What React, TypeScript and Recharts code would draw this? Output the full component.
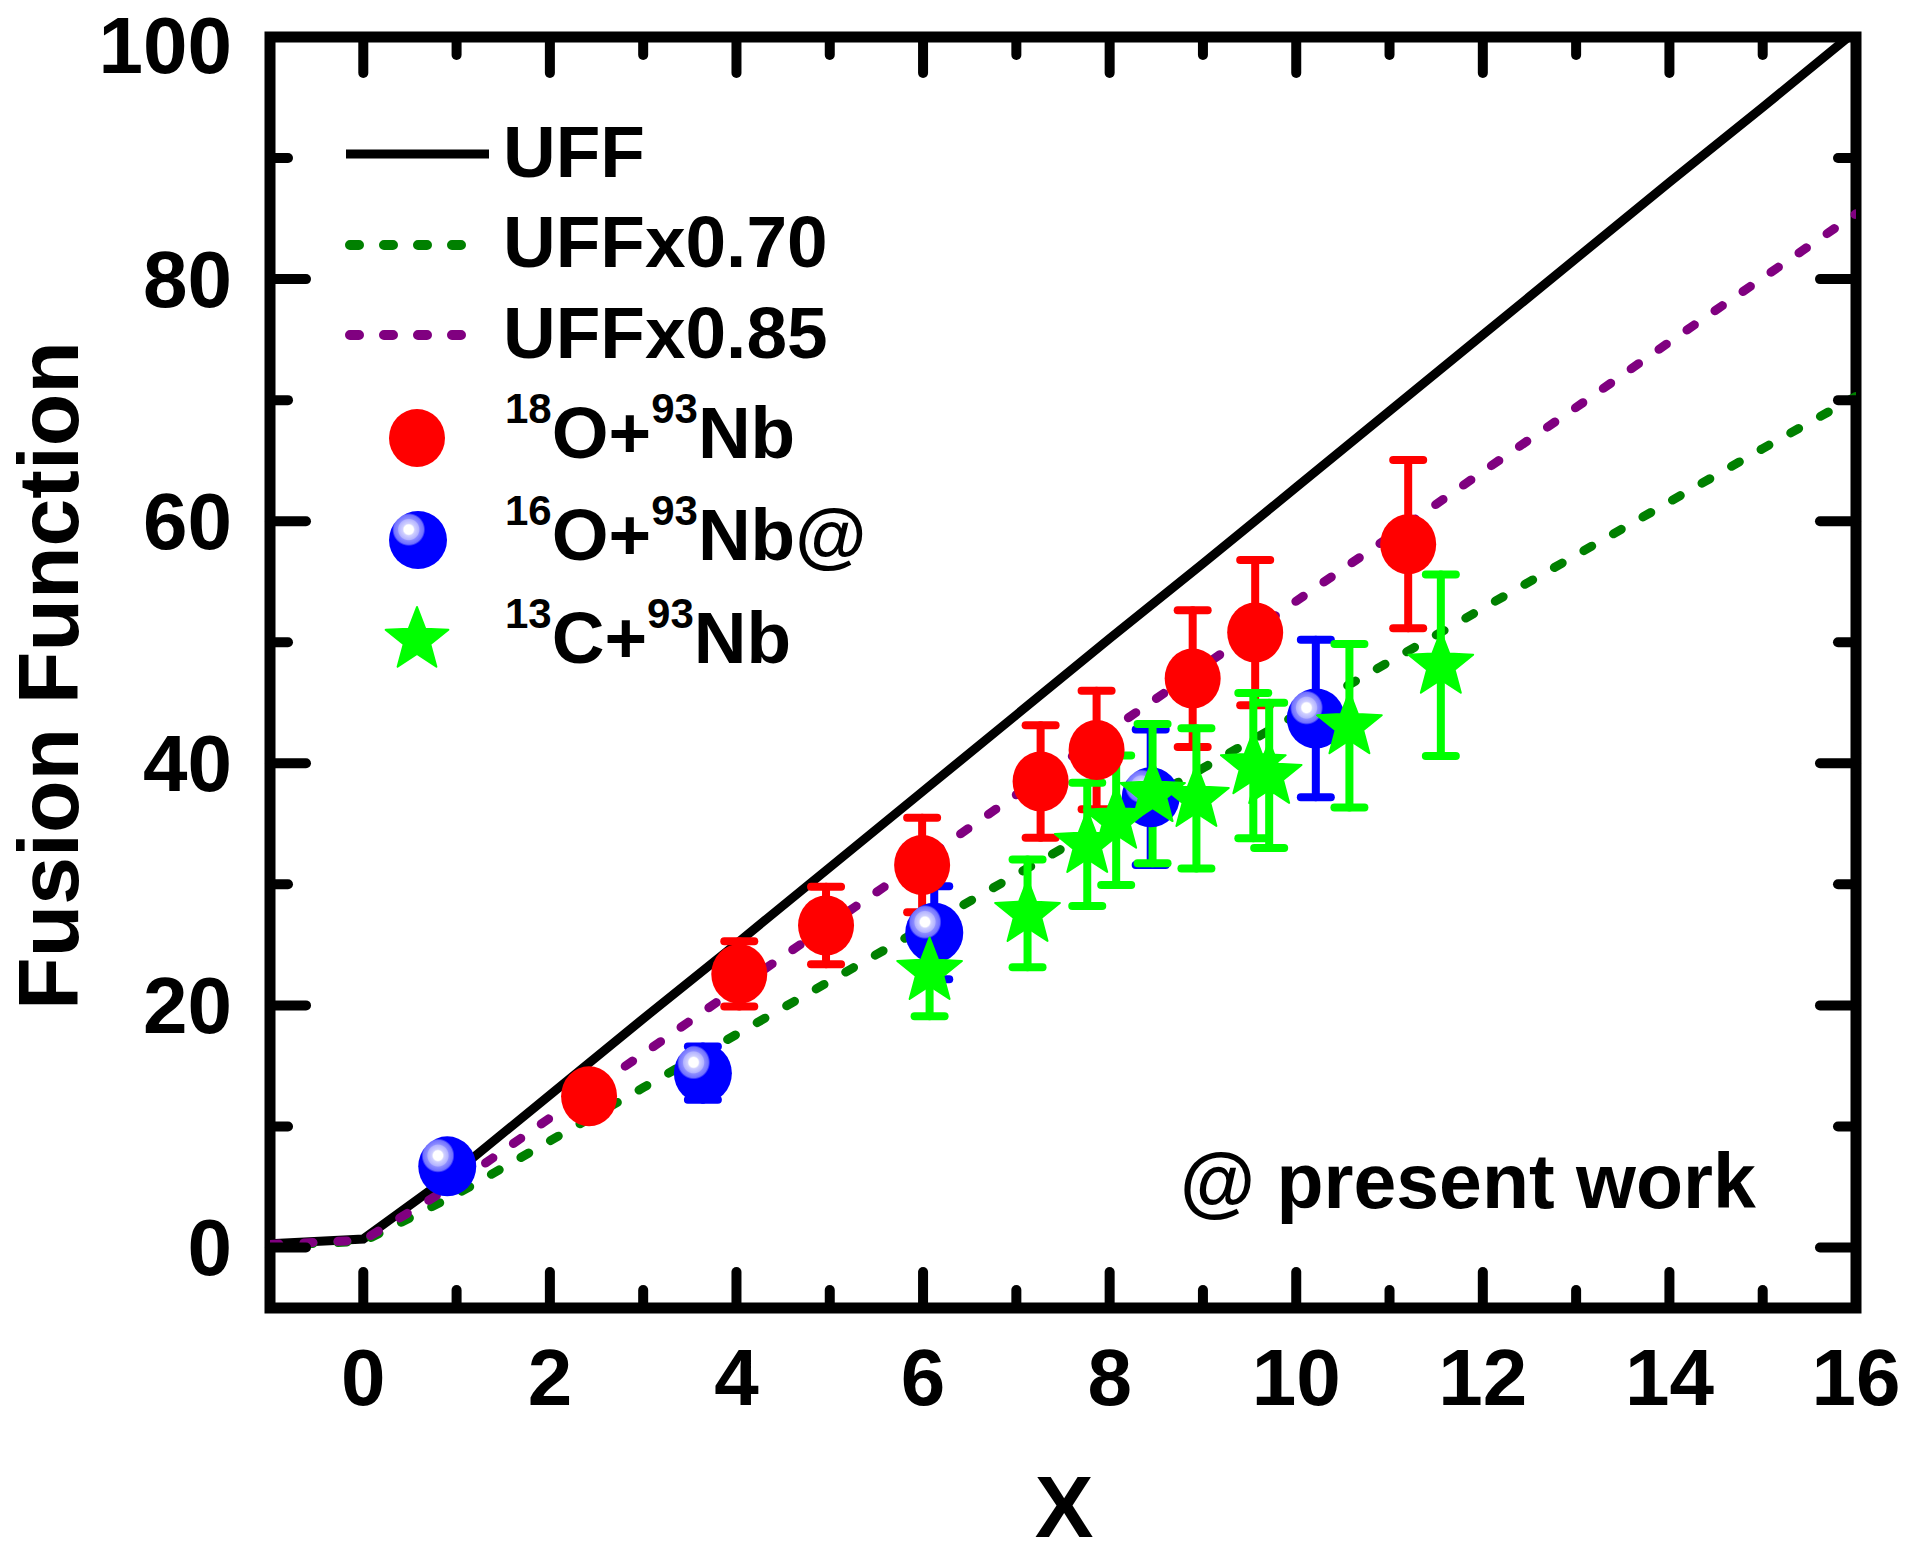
import React from 'react';
import {
  ComposedChart,
  Line,
  Scatter,
  ErrorBar,
  XAxis,
  YAxis,
  ReferenceLine,
  ReferenceArea,
  Legend,
  Label,
} from 'recharts';

const FONT = "'Liberation Sans', Arial, Helvetica, sans-serif";

// reduced fusion function curves, read at integer X
const curveX = [-1, 0, 1, 2, 3, 4, 5, 6, 7, 8, 9, 10, 11, 12, 13, 14, 15, 16];
const uff = [0.3, 0.7, 6.3, 12.6, 18.9, 25.1, 31.4, 37.7, 44.0, 50.3, 56.5, 62.8, 69.1, 75.4, 81.7, 88.0, 94.2, 100.5];
const uff070 = [0.2, 0.5, 4.4, 8.8, 13.2, 17.6, 22.0, 26.4, 30.8, 35.2, 39.6, 44.0, 48.4, 52.8, 57.2, 61.6, 66.0, 70.3];
const uff085 = [0.25, 0.6, 5.3, 10.7, 16.0, 21.4, 26.7, 32.0, 37.4, 42.7, 48.0, 53.4, 58.7, 64.1, 69.4, 74.8, 80.1, 85.4];

// 18O + 93Nb
const o18X = [2.42, 4.03, 4.96, 5.99, 7.26, 7.86, 8.89, 9.56, 11.2];
const o18Y = [12.5, 22.6, 26.6, 31.6, 38.5, 41.1, 47.0, 50.8, 58.1];
const o18Err = [1.5, 2.7, 3.2, 3.9, 4.65, 4.9, 5.65, 6.0, 6.95];

// 16O + 93Nb (present work)
const o16X = [0.9, 3.64, 6.12, 8.44, 10.21];
const o16Y = [6.7, 14.4, 26.0, 37.2, 43.7];
const o16Err = [1.0, 2.2, 3.85, 5.6, 6.5];

// 13C + 93Nb
const c13X = [6.07, 7.12, 7.76, 8.07, 8.46, 8.93, 9.54, 9.71, 10.57, 11.55];
const c13Y = [22.8, 27.6, 33.3, 35.3, 37.5, 37.1, 39.8, 39.0, 43.1, 48.1];
const c13Err = [3.7, 4.45, 5.1, 5.35, 5.75, 5.8, 6.0, 6.0, 6.75, 7.5];

const xMajor = [0, 2, 4, 6, 8, 10, 12, 14, 16];
const xMinor = [1, 3, 5, 7, 9, 11, 13, 15];
const yMajor = [0, 20, 40, 60, 80, 100];
const yMinor = [10, 30, 50, 70, 90];

const X_DOMAIN: [number, number] = [-1, 16];
const Y_DOMAIN: [number, number] = [-5, 100];

const curveRows = curveX.map((x, i) => ({ x, uff: uff[i], f70: uff070[i], f85: uff085[i] }));
const toRows = (xs: number[], ys: number[], es: number[]) =>
  xs.map((x, i) => ({ x, y: ys[i], err: es[i] }));
const o18Rows = toRows(o18X, o18Y, o18Err);
const o16Rows = toRows(o16X, o16Y, o16Err);
const c13Rows = toRows(c13X, c13Y, c13Err);

const RED = '#ff0000';
const BLUE = '#0000ff';
const GREEN = '#00ff00';
const DGREEN = '#008000';
const PURPLE = '#800080';

const starPoints = (cx: number, cy: number, R: number, r: number) => {
  const pts: string[] = [];
  for (let i = 0; i < 10; i++) {
    const a = -Math.PI / 2 + (i * Math.PI) / 5;
    const rad = i % 2 === 0 ? R : r;
    pts.push(`${cx + rad * Math.cos(a)},${cy + rad * Math.sin(a)}`);
  }
  return pts.join(' ');
};

const RedDot = (p: any) => <ellipse cx={p.cx} cy={p.cy} rx={28} ry={30} fill={RED} />;
const BlueBall = (p: any) => <ellipse cx={p.cx} cy={p.cy} rx={29} ry={30} fill="url(#ballGrad)" />;
const GreenStar = (p: any) => (
  <polygon points={starPoints(p.cx, p.cy, 34, 14.5)} fill={GREEN} strokeLinejoin="round" stroke={GREEN} strokeWidth={2} />
);

const XTick = ({ x, y, payload }: any) => (
  <text x={x} y={y} textAnchor="middle" fontFamily={FONT} fontWeight="bold" fontSize={80} fill="#000">
    {payload.value}
  </text>
);

// keep the top label inside the page
const YTick = ({ x, y, payload }: any) => (
  <text x={x} y={Math.max(y + 28, 73)} textAnchor="end" fontFamily={FONT} fontWeight="bold" fontSize={80} fill="#000">
    {payload.value}
  </text>
);

const XTitle = ({ viewBox }: any) => (
  <text x={viewBox.x + viewBox.width / 2 + 1} y={viewBox.y + 229} textAnchor="middle" fontFamily={FONT} fontWeight="bold" fontSize={88} fill="#000">
    X
  </text>
);

const YTitle = ({ viewBox }: any) => {
  const cx = viewBox.x + 78;
  const cy = viewBox.y + viewBox.height / 2 + 3;
  return (
    <text x={cx} y={cy} transform={`rotate(-90 ${cx} ${cy})`} textAnchor="middle" fontFamily={FONT} fontWeight="bold" fontSize={86} fill="#000">
      Fusion Function
    </text>
  );
};

const lineLegend = [
  { name: 'UFF', color: '#000', dash: undefined, y: 154, base: 177 },
  { name: 'UFFx0.70', color: DGREEN, dash: '9 25', y: 245, base: 267 },
  { name: 'UFFx0.85', color: PURPLE, dash: '9 25', y: 335, base: 358 },
];

const Reaction = ({ x, y, a, p, tail }: any) => (
  <text x={x} y={y} fontFamily={FONT} fontWeight="bold" fontSize={73} fill="#000">
    <tspan fontSize={42} dy={-35}>{a}</tspan>
    <tspan dy={35}>{p}+</tspan>
    <tspan fontSize={42} dy={-35}>93</tspan>
    <tspan dy={35}>Nb{tail}</tspan>
  </text>
);

const renderLegend = () => (
  <svg width={1905} height={1555} style={{ position: 'absolute', left: 0, top: 0 }}>
    <defs>
      <radialGradient id="ballGrad" cx="0.34" cy="0.32" r="0.62" fx="0.34" fy="0.32">
        <stop offset="0" stopColor="#ffffff" />
        <stop offset="0.13" stopColor="#ffffff" />
        <stop offset="0.17" stopColor="#d0d0ff" />
        <stop offset="0.28" stopColor="#b4b4ff" />
        <stop offset="0.31" stopColor="#8c8cff" />
        <stop offset="0.41" stopColor="#7070ff" />
        <stop offset="0.46" stopColor={BLUE} />
        <stop offset="1" stopColor={BLUE} />
      </radialGradient>
    </defs>
    {lineLegend.map((l) => (
      <g key={l.name}>
        <line
          x1={l.dash ? 350 : 346}
          x2={l.dash ? 463 : 489}
          y1={l.y}
          y2={l.y}
          stroke={l.color}
          strokeWidth={l.dash ? 10 : 9}
          strokeDasharray={l.dash}
          strokeLinecap={l.dash ? 'round' : 'butt'}
        />
        <text x={503} y={l.base} fontFamily={FONT} fontWeight="bold" fontSize={73} fill="#000">
          {l.name}
        </text>
      </g>
    ))}
    <ellipse cx={417} cy={438} rx={28} ry={29} fill={RED} />
    <Reaction x={505} y={458} a="18" p="O" tail="" />
    <ellipse cx={418} cy={540} rx={29} ry={29} fill="url(#ballGrad)" />
    <Reaction x={505} y={560} a="16" p="O" tail="@" />
    <polygon points={starPoints(417, 640, 33, 14)} fill={GREEN} stroke={GREEN} strokeWidth={2} strokeLinejoin="round" />
    <Reaction x={505} y={663} a="13" p="C" tail="" />
    <text x={1180} y={1208} fontFamily={FONT} fontWeight="bold" fontSize={77} fill="#000">
      @ present work
    </text>
  </svg>
);

const MAJ_Y = 2.98;
const MIN_Y = 1.49;
const MAJ_X = 0.386;
const MIN_X = 0.193;

const tickSegs = [
  ...xMajor.map((t) => ({ v: t, len: MAJ_Y, dir: 'x' })),
  ...xMinor.map((t) => ({ v: t, len: MIN_Y, dir: 'x' })),
  ...yMajor.map((t) => ({ v: t, len: MAJ_X, dir: 'y' })),
  ...yMinor.map((t) => ({ v: t, len: MIN_X, dir: 'y' })),
];

const App: React.FC = () => {
  return (
    <div style={{ position: 'absolute', left: 0, top: 0, width: 1905, height: 1555, background: '#fff' }}>
      <ComposedChart width={1905} height={1555} data={curveRows} margin={{ top: 37, right: 49, left: 0, bottom: 0 }}>
        <XAxis
          dataKey="x"
          type="number"
          domain={X_DOMAIN}
          ticks={xMajor}
          interval={0}
          allowDataOverflow
          tick={XTick}
          tickLine={false}
          axisLine={false}
          tickSize={0}
          tickMargin={97}
          height={247}
          label={<Label content={XTitle} />}
        />
        <YAxis
          type="number"
          domain={Y_DOMAIN}
          ticks={yMajor}
          interval={0}
          allowDataOverflow
          tick={YTick}
          tickLine={false}
          axisLine={false}
          tickSize={0}
          tickMargin={38}
          width={270}
          label={<Label content={YTitle} />}
        />
        <Line dataKey="uff" type="linear" stroke="#000" strokeWidth={9} dot={false} activeDot={false} isAnimationActive={false} />
        <Line dataKey="f70" type="linear" stroke={DGREEN} strokeWidth={9} strokeDasharray="9 25" strokeLinecap="round" dot={false} activeDot={false} isAnimationActive={false} />
        <Line dataKey="f85" type="linear" stroke={PURPLE} strokeWidth={9} strokeDasharray="9 25" strokeLinecap="round" dot={false} activeDot={false} isAnimationActive={false} />
        <Scatter data={o16Rows} dataKey="y" shape={BlueBall} isAnimationActive={false}>
          <ErrorBar dataKey="err" direction="y" width={15} strokeWidth={8} stroke={BLUE} strokeLinecap="round" />
        </Scatter>
        <Scatter data={o18Rows} dataKey="y" shape={RedDot} isAnimationActive={false}>
          <ErrorBar dataKey="err" direction="y" width={15} strokeWidth={8} stroke={RED} strokeLinecap="round" />
        </Scatter>
        <Scatter data={c13Rows} dataKey="y" shape={GreenStar} isAnimationActive={false}>
          <ErrorBar dataKey="err" direction="y" width={15} strokeWidth={8} stroke={GREEN} strokeLinecap="round" />
        </Scatter>
        {tickSegs.map((t, i) =>
          t.dir === 'x'
            ? [
                <ReferenceLine key={`b${i}`} ifOverflow="visible" stroke="#000" strokeWidth={10} strokeLinecap="round"
                  segment={[{ x: t.v, y: Y_DOMAIN[0] }, { x: t.v, y: Y_DOMAIN[0] + t.len }]} />,
                <ReferenceLine key={`t${i}`} ifOverflow="visible" stroke="#000" strokeWidth={10} strokeLinecap="round"
                  segment={[{ x: t.v, y: Y_DOMAIN[1] }, { x: t.v, y: Y_DOMAIN[1] - t.len }]} />,
              ]
            : [
                <ReferenceLine key={`l${i}`} ifOverflow="visible" stroke="#000" strokeWidth={10} strokeLinecap="round"
                  segment={[{ x: X_DOMAIN[0], y: t.v }, { x: X_DOMAIN[0] + t.len, y: t.v }]} />,
                <ReferenceLine key={`r${i}`} ifOverflow="visible" stroke="#000" strokeWidth={10} strokeLinecap="round"
                  segment={[{ x: X_DOMAIN[1], y: t.v }, { x: X_DOMAIN[1] - t.len, y: t.v }]} />,
              ]
        )}
        <ReferenceArea x1={X_DOMAIN[0]} x2={X_DOMAIN[1]} y1={Y_DOMAIN[0]} y2={Y_DOMAIN[1]} ifOverflow="visible"
          fill="none" fillOpacity={0} stroke="#000" strokeWidth={11} />
        <Legend layout="vertical" align="center" verticalAlign="middle" content={renderLegend}
          wrapperStyle={{ left: 0, top: 0, width: 1905, height: 1555, pointerEvents: 'none' }} />
      </ComposedChart>
    </div>
  );
};

export default App;
